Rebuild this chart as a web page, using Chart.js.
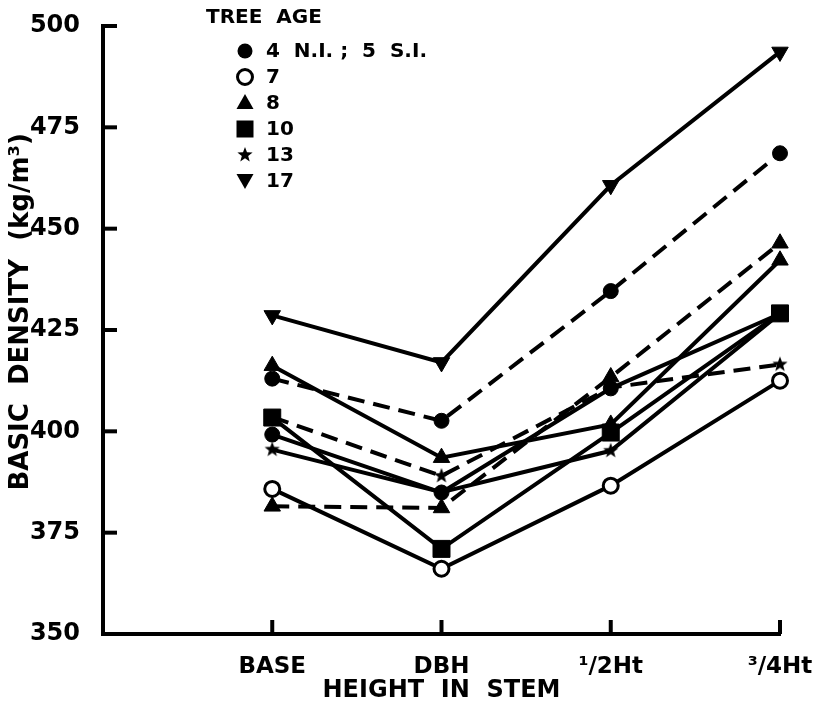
<!DOCTYPE html>
<html>
<head>
<meta charset="utf-8">
<script src="https://cdn.jsdelivr.net/npm/chart.js@4.4.0/dist/chart.umd.min.js"></script>
<style>
  html, body { margin: 0; padding: 0; background: #fff; }
  #wrap { width: 813px; height: 706px; }
</style>
</head>
<body>
<div id="wrap"><canvas id="myChart"></canvas></div>
<script>
// stem positions (x) and density ticks (y)
const heights = ['BASE', 'DBH', '\u00B9/2Ht', '\u00B3/4Ht'];
const yTicks = [350, 375, 400, 425, 450, 475, 500];

// basic density (kg/m3) at BASE, DBH, 1/2Ht, 3/4Ht
const age4and5Dashed = [413.0, 402.6, 434.6, 468.6];
const age4and5Solid = [399.2, 384.9, 410.6, 429.0];
const age7 = [385.8, 366.1, 386.6, 412.5];
const age8Solid = [416.2, 393.5, 401.7, 442.2];
const age8Dashed = [381.5, 381.1, 413.4, 446.4];
const age10 = [403.4, 371.0, 399.7, 429.1];
const age13Solid = [395.5, 385.0, 395.2, 429.0];
const age13Dashed = [403.5, 389.0, 410.8, 416.5];
const age17 = [428.6, 417.0, 460.7, 493.6];

const legendItems = ['4  N.I. ;  5  S.I.', '7', '8', '10', '13', '17'];
const FONT = "'DejaVu Sans', 'Liberation Sans', sans-serif";

// small filled 5 point star used as point style
function makeStar(r) {
  const c = document.createElement('canvas');
  const s = Math.ceil(r * 2 + 2);
  c.width = s; c.height = s;
  const g = c.getContext('2d');
  g.fillStyle = '#000';
  g.beginPath();
  for (let i = 0; i < 10; i++) {
    const a = -Math.PI / 2 + i * Math.PI / 5;
    const rr = i % 2 ? r * 0.42 : r;
    g.lineTo(s / 2 + rr * Math.cos(a), s / 2 + rr * Math.sin(a));
  }
  g.closePath();
  g.fill();
  return c;
}
const star = makeStar(8);

function pts(values) {
  return values.map((v, i) => ({ x: i + 1, y: v }));
}

function series(label, values, style, dashed, extra) {
  return Object.assign({
    label: label,
    data: pts(values),
    borderColor: '#000',
    borderWidth: 4,
    borderDash: dashed ? [17, 9] : [],
    pointStyle: style,
    pointRadius: 7.5,
    pointBackgroundColor: '#000',
    pointBorderColor: '#000',
    pointBorderWidth: 1,
    tension: 0,
    clip: false,
  }, extra || {});
}

// ticks that point into the plot, placed by the scales
const innerTicks = {
  id: 'innerTicks',
  afterDraw(chart) {
    const ctx = chart.ctx;
    const xs = chart.scales.x, ys = chart.scales.y;
    const a = chart.chartArea;
    ctx.save();
    ctx.strokeStyle = '#000';
    ctx.lineWidth = 4;
    yTicks.slice(1).forEach((v) => {
      const y = ys.getPixelForValue(v);
      ctx.beginPath(); ctx.moveTo(a.left, y); ctx.lineTo(a.left + 14, y); ctx.stroke();
    });
    heights.forEach((h, i) => {
      const x = xs.getPixelForValue(i + 1);
      ctx.beginPath(); ctx.moveTo(x, a.bottom); ctx.lineTo(x, a.bottom - 14); ctx.stroke();
    });
    ctx.restore();
  },
};

function drawMarker(ctx, kind, x, y) {
  ctx.fillStyle = '#000';
  ctx.strokeStyle = '#000';
  ctx.beginPath();
  if (kind === 'dot' || kind === 'ring') {
    ctx.arc(x, y, 7.5, 0, Math.PI * 2);
    if (kind === 'dot') ctx.fill();
    else { ctx.fillStyle = '#fff'; ctx.fill(); ctx.lineWidth = 3; ctx.stroke(); }
  } else if (kind === 'up') {
    ctx.moveTo(x, y - 9); ctx.lineTo(x + 8.5, y + 6); ctx.lineTo(x - 8.5, y + 6); ctx.closePath(); ctx.fill();
  } else if (kind === 'down') {
    ctx.moveTo(x, y + 8); ctx.lineTo(x + 8.5, y - 7); ctx.lineTo(x - 8.5, y - 7); ctx.closePath(); ctx.fill();
  } else if (kind === 'sq') {
    ctx.rect(x - 8.5, y - 8.5, 17, 17); ctx.fill();
  } else if (kind === 'star') {
    ctx.drawImage(star, x - star.width / 2, y - star.height / 2);
  }
}

const treeLegend = {
  id: 'treeLegend',
  afterDraw(chart) {
    const ctx = chart.ctx;
    const kinds = ['dot', 'ring', 'up', 'sq', 'star', 'down'];
    ctx.save();
    ctx.fillStyle = '#000';
    ctx.textBaseline = 'middle';
    ctx.font = 'bold 20px ' + FONT;
    ctx.fillText('TREE  AGE', 206, 18);
    legendItems.forEach((t, i) => {
      const y = 51 + i * 26;
      drawMarker(ctx, kinds[i], 245, y);
      ctx.fillStyle = '#000';
      ctx.fillText(t, 266, y + 1);
    });
    ctx.restore();
  },
};

const ctx = document.getElementById('myChart').getContext('2d');
new Chart(ctx, {
  type: 'line',
  data: {
    datasets: [
      series('17', age17, 'triangle', false, { pointRotation: 180, pointRadius: 9.5 }),
      series('4 N.I.; 5 S.I.', age4and5Dashed, 'circle', true),
      series('4 N.I.; 5 S.I.', age4and5Solid, 'circle', false),
      series('8', age8Solid, 'triangle', false, { pointRadius: 9.5 }),
      series('8', age8Dashed, 'triangle', true, { pointRadius: 9.5 }),
      series('13', age13Dashed, star, true),
      series('13', age13Solid, star, false),
      series('10', age10, 'rect', false, { pointRadius: 12 }),
      series('7', age7, 'circle', false, { pointBackgroundColor: '#fff', pointBorderWidth: 3 }),
    ],
  },
  options: {
    responsive: true,
    maintainAspectRatio: false,
    animation: false,
    layout: { padding: { top: 26, right: 33, left: 0, bottom: 0 } },
    plugins: {
      legend: { display: false },
      tooltip: { enabled: false },
    },
    scales: {
      x: {
        type: 'linear',
        min: 0,
        max: 4,
        afterBuildTicks: (scale) => { scale.ticks = heights.map((h, i) => ({ value: i + 1 })); },
        afterFit: (scale) => { scale.height = 72; scale.paddingLeft = 0; scale.paddingRight = 0; },
        ticks: {
          callback: (v) => heights[v - 1],
          color: '#000',
          font: { family: FONT, size: 23, weight: 'bold' },
          padding: 19,
          maxRotation: 0,
          autoSkip: false,
        },
        grid: { drawOnChartArea: false, drawTicks: false },
        border: { display: true, color: '#000', width: 4 },
        title: {
          display: true,
          text: 'HEIGHT  IN  STEM',
          color: '#000',
          font: { family: FONT, size: 24, weight: 'bold' },
          padding: { top: 0, bottom: 1 },
        },
      },
      y: {
        min: 350,
        max: 500,
        afterBuildTicks: (scale) => { scale.ticks = yTicks.map((v) => ({ value: v })); },
        afterFit: (scale) => { scale.width = 103; scale.paddingTop = 0; scale.paddingBottom = 0; },
        ticks: {
          color: '#000',
          font: { family: FONT, size: 24, weight: 'bold' },
          padding: 23,
        },
        grid: { drawOnChartArea: false, drawTicks: false },
        border: { display: true, color: '#000', width: 4 },
        title: {
          display: true,
          text: '    BASIC  DENSITY  (kg/m\u00B3)',
          color: '#000',
          font: { family: FONT, size: 26, weight: 'bold' },
          padding: { top: 6, bottom: 0 },
        },
      },
    },
  },
  plugins: [innerTicks, treeLegend],
});
</script>
</body>
</html>
